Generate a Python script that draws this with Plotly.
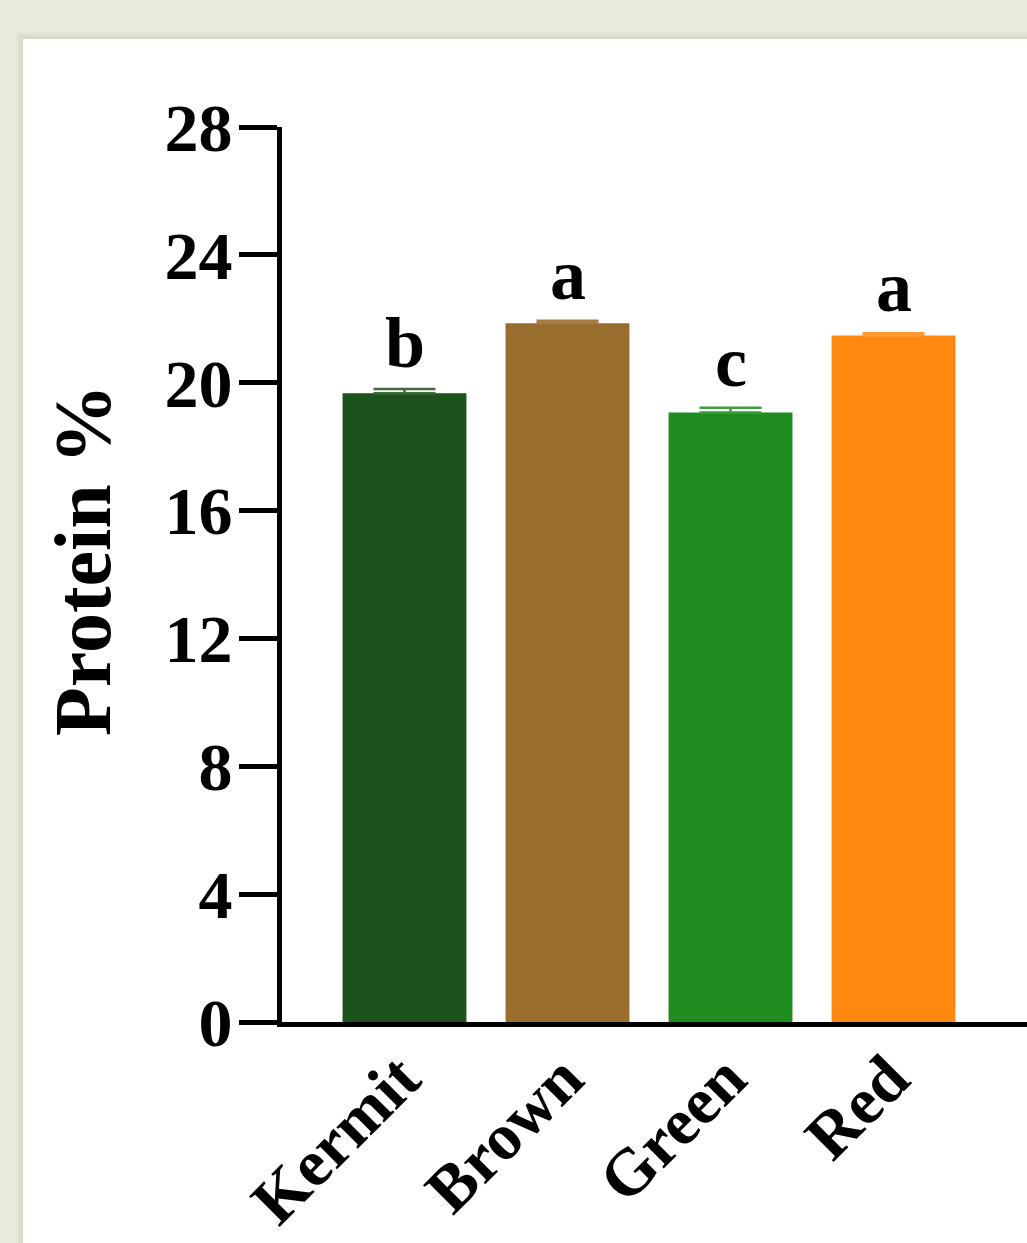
import plotly.graph_objects as go

categories = ["Kermit", "Brown", "Green", "Red"]
protein_mean = [19.67, 21.86, 19.07, 21.48]
protein_err = [0.13, 0.08, 0.15, 0.07]
letters = ["b", "a", "c", "a"]
bar_colors = ["#1c521c", "#996d2e", "#1e8c1e", "#ff8811"]
err_colors = ["#3d6b3d", "#a67c40", "#3c9c3c", "#ff9a33"]
y_ticks = [0, 4, 8, 12, 16, 20, 24, 28]

W, H = 1027, 1243
L, R, T, B = 282, 0, 127, 221
PW, PH = W - L - R, H - T - B

def px_x(p):
    return (p - L) / PW

def px_y(q):
    return (H - B - q) / PH

FONT = "Liberation Serif, Times New Roman, serif"

fig = go.Figure()
for i, cat in enumerate(categories):
    fig.add_trace(go.Bar(
        x=[cat], y=[protein_mean[i]],
        marker=dict(color=bar_colors[i], line=dict(width=0)),
        width=0.76,
        error_y=dict(type="data", symmetric=False, array=[protein_err[i]],
                     arrayminus=[0], visible=True,
                     color=err_colors[i], thickness=2.5, width=31),
        showlegend=False,
    ))
    fig.add_annotation(
        x=cat, y=protein_mean[i] + protein_err[i], text=letters[i],
        showarrow=False, yanchor="bottom", yshift=4,
        font=dict(family=FONT, size=72, color="black", weight="bold"),
    )

# y-axis title as a rotated annotation
fig.add_annotation(
    xref="paper", yref="paper", x=px_x(83), y=px_y(560),
    xanchor="center", yanchor="middle", text="Protein %", textangle=-90,
    showarrow=False,
    font=dict(family=FONT, size=80, color="black", weight="bold"),
)

shapes = []
for k, a in enumerate([0.025, 0.03, 0.035, 0.04]):
    off = 8 - 2 * k
    shapes.append(dict(type="rect", xref="paper", yref="paper", layer="below",
                       x0=px_x(23 - off), x1=px_x(W + 50), y0=px_y(39 - off), y1=px_y(H + 50),
                       fillcolor=f"rgba(90,100,60,{a})", line=dict(width=0)))
shapes.append(dict(type="rect", xref="paper", yref="paper", layer="below",
                   x0=px_x(23), x1=px_x(W + 50), y0=px_y(39), y1=px_y(H + 50),
                   fillcolor="white", line=dict(width=0)))

fig.update_layout(
    width=W, height=H,
    margin=dict(l=L, r=R, t=T, b=B, pad=0),
    paper_bgcolor="#e8ecdb",
    plot_bgcolor="white",
    shapes=shapes,
    font=dict(family=FONT, color="black"),
    xaxis=dict(
        range=[-(404.5 - L) / 163, -(404.5 - L) / 163 + PW / 163],
        showline=True, linecolor="black", linewidth=5,
        ticks="", showgrid=False, zeroline=False,
        tickangle=-45,
        tickfont=dict(family=FONT, size=66, color="black", weight="bold"),
        ticklabelstandoff=-14,
        ticklabelshift=-4,
    ),
    yaxis=dict(
        range=[0, 28],
        tickvals=y_ticks, ticktext=[str(v) for v in y_ticks],
        showline=True, linecolor="black", linewidth=5,
        ticks="outside", ticklen=38, tickwidth=5, tickcolor="black",
        showgrid=False, zeroline=False,
        tickfont=dict(family=FONT, size=68, color="black", weight="bold"),
        ticklabelstandoff=-7,
    ),
)

fig.write_html("out.html", config={"displayModeBar": False},
               post_script="document.body.style.margin='0';document.body.style.overflow='hidden';")
